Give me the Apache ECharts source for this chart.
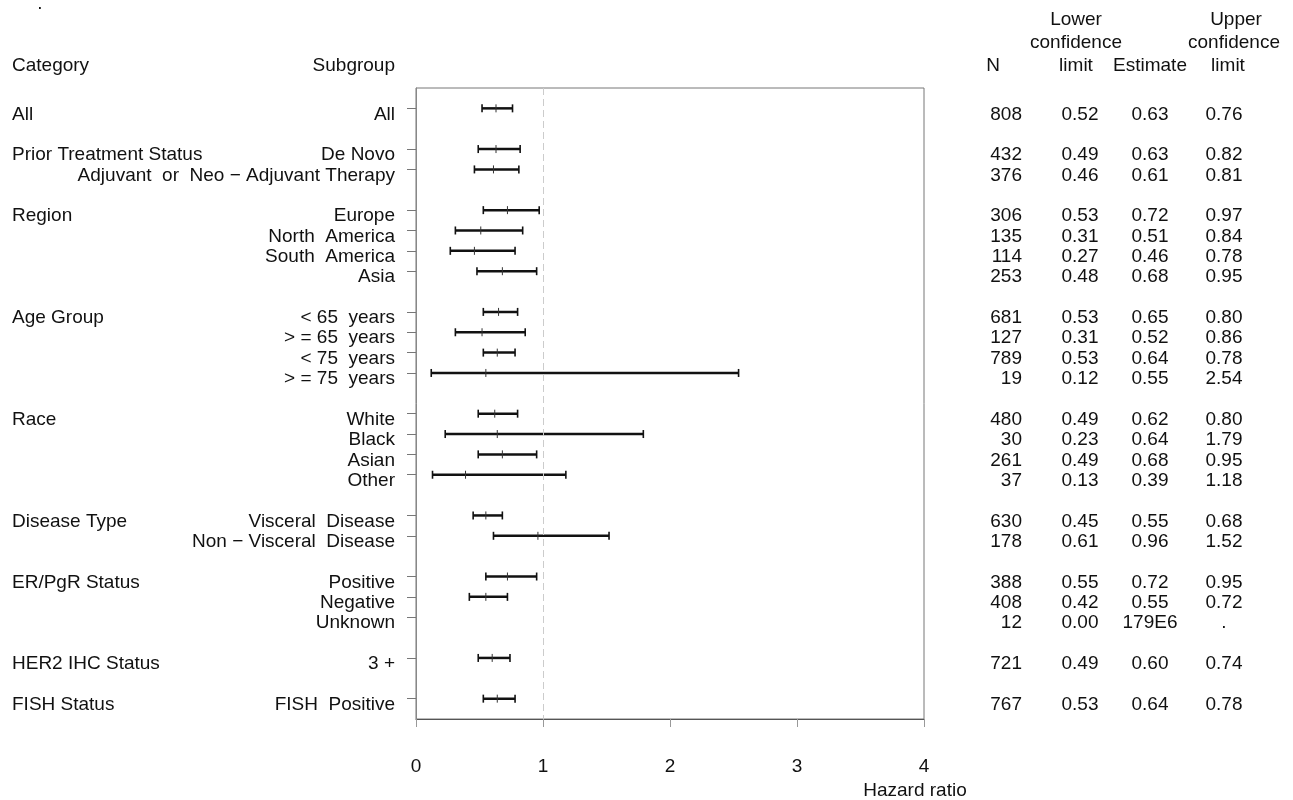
<!DOCTYPE html>
<html>
<head>
<meta charset="utf-8">
<script src="https://cdn.jsdelivr.net/npm/echarts@6/dist/echarts.min.js"></script>
<style>
  html, body { margin: 0; padding: 0; background: #fff; }
  #chart { width: 1293px; height: 800px; }
</style>
</head>
<body>
<div id="chart"></div>
<script>
// Category groups and their subgroups, top to bottom
const categoryNames = ['All', 'Prior Treatment Status', 'Region', 'Age Group', 'Race',
  'Disease Type', 'ER/PgR Status', 'HER2 IHC Status', 'FISH Status'];
const subgroupNames = [
  ['All'],
  ['De Novo', 'Adjuvant  or  Neo \u2212 Adjuvant Therapy'],
  ['Europe', 'North  America', 'South  America', 'Asia'],
  ['< 65  years', '> = 65  years', '< 75  years', '> = 75  years'],
  ['White', 'Black', 'Asian', 'Other'],
  ['Visceral  Disease', 'Non \u2212 Visceral  Disease'],
  ['Positive', 'Negative', 'Unknown'],
  ['3 +'],
  ['FISH  Positive']
];

// Per-subgroup statistics (same order as the subgroups above)
const nValues = [808, 432, 376, 306, 135, 114, 253, 681, 127, 789, 19, 480, 30, 261, 37, 630, 178, 388, 408, 12, 721, 767];
const lowerCL = [0.52, 0.49, 0.46, 0.53, 0.31, 0.27, 0.48, 0.53, 0.31, 0.53, 0.12, 0.49, 0.23, 0.49, 0.13, 0.45, 0.61, 0.55, 0.42, 0.00, 0.49, 0.53];
const estimate = [0.63, 0.63, 0.61, 0.72, 0.51, 0.46, 0.68, 0.65, 0.52, 0.64, 0.55, 0.62, 0.64, 0.68, 0.39, 0.55, 0.96, 0.72, 0.55, 179e6, 0.60, 0.64];
const upperCL = [0.76, 0.82, 0.81, 0.97, 0.84, 0.78, 0.95, 0.80, 0.86, 0.78, 2.54, 0.80, 1.79, 0.95, 1.18, 0.68, 1.52, 0.95, 0.72, null, 0.74, 0.78];

// Hazard ratio axis ticks
const xTicks = [0, 1, 2, 3, 4];

const FONT = '"Liberation Sans", Arial, Helvetica, sans-serif';
const FS = 19;

function fmtFixed(v) { return v == null ? '.' : v.toFixed(2); }
function fmtEst(v) {
  if (v == null) return '.';
  if (v >= 1e4) {
    const exp = Math.floor(Math.log10(v)) - 2;
    return Math.round(v / Math.pow(10, exp)) + 'E' + exp;
  }
  return v.toFixed(2);
}

// Build the row slots: a blank slot before, between and after the groups
const subLabels = [''], catLabels = [''], nLabels = [''], loLabels = [''], esLabels = [''], hiLabels = [''];
const barData = [];
let k = 0;
subgroupNames.forEach((subs, g) => {
  if (g > 0) { subLabels.push(''); catLabels.push(''); nLabels.push(''); loLabels.push(''); esLabels.push(''); hiLabels.push(''); }
  subs.forEach((s, j) => {
    const slot = subLabels.length;
    subLabels.push(s);
    catLabels.push(j === 0 ? categoryNames[g] : '');
    nLabels.push(String(nValues[k]));
    loLabels.push(fmtFixed(lowerCL[k]));
    esLabels.push(fmtEst(estimate[k]));
    hiLabels.push(fmtFixed(upperCL[k]));
    if (lowerCL[k] != null && upperCL[k] != null && estimate[k] != null) {
      barData.push([slot, lowerCL[k], estimate[k], upperCL[k]]);
    }
    k++;
  });
});
subLabels.push(''); catLabels.push(''); nLabels.push(''); loLabels.push(''); esLabels.push(''); hiLabels.push('');

const GRID = { left: 416, right: 1293 - 924, top: 88, bottom: 80 };
const AXIS_R = 924;

// Row text sits a little below its tick
const rowText = { verticalAlign: 'top', lineHeight: 12, color: '#111', fontFamily: FONT, fontSize: FS };

function columnAxis(data, position, align, margin) {
  return {
    type: 'category', data: data, inverse: true, boundaryGap: false,
    position: position,
    axisLine: { show: false }, axisTick: { show: false }, splitLine: { show: false },
    axisLabel: Object.assign({ interval: 0, align: align, margin: margin }, rowText)
  };
}

const chart = echarts.init(document.getElementById('chart'));

function headerText(text, x, y, align) {
  return {
    type: 'text', x: x, y: y, silent: true,
    style: { text: text, fill: '#111', font: FS + 'px ' + FONT, textAlign: align, textVerticalAlign: 'middle' }
  };
}

chart.setOption({
  animation: false,
  backgroundColor: '#fff',
  grid: Object.assign({ show: true, borderColor: '#777', borderWidth: 1, backgroundColor: 'transparent' }, GRID),
  xAxis: {
    type: 'value', min: xTicks[0], max: xTicks[xTicks.length - 1], interval: 1,
    name: 'Hazard ratio', nameLocation: 'end', nameGap: -9,
    nameTextStyle: { color: '#111', fontFamily: FONT, fontSize: FS, align: 'center', verticalAlign: 'top', padding: [62, 0, 0, 0] },
    axisLine: { show: true, lineStyle: { color: '#555', width: 1 } },
    axisTick: { show: true, length: 8, lineStyle: { color: '#999' } },
    splitLine: { show: false },
    axisLabel: { margin: 38, color: '#111', fontFamily: FONT, fontSize: FS }
  },
  yAxis: [
    {
      type: 'category', data: subLabels, inverse: true, boundaryGap: false, position: 'left',
      axisLine: { show: true, lineStyle: { color: '#888' } },
      axisTick: { show: true, length: 9, interval: (i) => subLabels[i] !== '', lineStyle: { color: '#777' } },
      splitLine: { show: false },
      axisLabel: Object.assign({ interval: 0, align: 'right', margin: 21 }, rowText)
    },
    columnAxis(catLabels, 'left', 'left', 416 - 12),
    columnAxis(nLabels, 'right', 'right', 1022 - AXIS_R),
    columnAxis(loLabels, 'right', 'center', 1080 - AXIS_R),
    columnAxis(esLabels, 'right', 'center', 1150 - AXIS_R),
    columnAxis(hiLabels, 'right', 'center', 1224 - AXIS_R)
  ],
  graphic: [
    headerText('.', 40, 4, 'center'),
    headerText('Category', 12, 66, 'left'),
    headerText('Subgroup', 395, 66, 'right'),
    headerText('N', 993, 66, 'center'),
    headerText('Lower', 1076, 20, 'center'),
    headerText('confidence', 1076, 43, 'center'),
    headerText('limit', 1076, 66, 'center'),
    headerText('Estimate', 1150, 66, 'center'),
    headerText('Upper', 1236, 20, 'center'),
    headerText('confidence', 1234, 43, 'center'),
    headerText('limit', 1228, 66, 'center')
  ],
  series: [{
    type: 'custom',
    xAxisIndex: 0, yAxisIndex: 0,
    encode: { x: [1, 2, 3], y: 0 },
    data: barData,
    renderItem: function (params, api) {
      const row = api.value(0);
      const pL = api.coord([api.value(1), row]);
      const pE = api.coord([api.value(2), row]);
      const pH = api.coord([api.value(3), row]);
      const h = 4;
      return {
        type: 'group',
        children: [
          { type: 'line', shape: { x1: pL[0], y1: pL[1], x2: pH[0], y2: pH[1] }, style: { stroke: '#111', lineWidth: 2.5 } },
          { type: 'line', shape: { x1: pL[0], y1: pL[1] - h, x2: pL[0], y2: pL[1] + h }, style: { stroke: '#111', lineWidth: 1.6 } },
          { type: 'line', shape: { x1: pH[0], y1: pH[1] - h, x2: pH[0], y2: pH[1] + h }, style: { stroke: '#111', lineWidth: 1.6 } },
          { type: 'line', shape: { x1: pE[0], y1: pE[1] - h, x2: pE[0], y2: pE[1] + h }, style: { stroke: '#333', lineWidth: 1 } }
        ]
      };
    },
    markLine: {
      silent: true, symbol: 'none', label: { show: false },
      lineStyle: { color: '#ccc', type: [7, 4], width: 1 },
      data: [{ xAxis: 1 }]
    }
  }]
});
</script>
</body>
</html>
